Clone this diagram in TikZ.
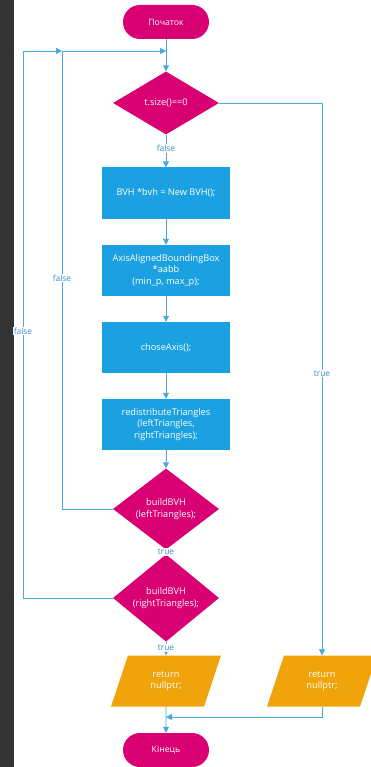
\documentclass[tikz,border=0pt]{standalone}
\usepackage{fontspec}
\setmainfont{Open Sans}
\usetikzlibrary{shapes.geometric,arrows.meta}
\definecolor{mag}{HTML}{D80073}
\definecolor{blu}{HTML}{1BA1E2}
\definecolor{org}{HTML}{F0A30A}
\definecolor{lin}{HTML}{4AA8DC}
\definecolor{lbl}{HTML}{3A8EC6}
\definecolor{strip}{HTML}{333333}
\tikzset{
  term/.style={rectangle, rounded corners=17pt, fill=mag, minimum width=86pt, minimum height=34pt, inner sep=0pt, text=white, font=\fontsize{8.7}{10}\selectfont},
  dec/.style={diamond, fill=mag, minimum width=106pt, minimum height=63pt, inner sep=0pt, text=white, align=center, font=\fontsize{9.2}{11.7}\selectfont},
  proc/.style={rectangle, fill=blu, minimum width=128pt, minimum height=51pt, inner sep=0pt, text=white, align=center, font=\fontsize{9.2}{11.7}\selectfont},
  io/.style={trapezium, trapezium left angle=71, trapezium right angle=109, trapezium stretches=true, fill=org, minimum width=110pt, minimum height=51pt, inner sep=0pt, text=white, align=center, font=\fontsize{9.2}{11.7}\selectfont},
  conn/.style={draw=lin, line width=0.8pt, -{Triangle[length=6pt,width=6pt]}},
  lab/.style={fill=white, text=lbl, inner sep=1pt, font=\fontsize{8.4}{10}\selectfont}
}
\begin{document}
\begin{tikzpicture}[x=1pt,y=-1pt]
\useasboundingbox (0,0) rectangle (370,767);
\fill[white] (0,0) rectangle (370,767);
\fill[strip] (0,0) rectangle (14,767);
\node[term] (start) at (166,22) {Початок};
\node[dec] (d1) at (166,103) {t.size()==0};
\node[proc] (b1) at (166,193) {BVH *bvh = New BVH();};
\node[proc] (b2) at (166,270.5) {AxisAlignedBoundingBox\\*aabb\\(min\_p, max\_p);};
\node[proc] (b3) at (166,347.5) {choseAxis();};
\node[proc] (b4) at (166,424.5) {redistributeTriangles\\(leftTriangles,\\rightTriangles);};
\node[dec] (d2) at (166,509) {buildBVH\\(leftTriangles);};
\node[dec] (d3) at (166,598) {buildBVH\\(rightTriangles);};
\node[io] (r1) at (166,681) {return\\nullptr;};
\node[io] (r2) at (322,681) {return\\nullptr;};
\node[term] (end) at (166,750) {Кінець};
\coordinate (top) at (166,51);
\coordinate (inner) at (62,51);
\coordinate (outer) at (23,51);
\coordinate (merge) at (166,717);
\draw[conn] (start) -- (d1);
\draw[conn] (d1) -- node[lab, pos=0.42] {false} (b1);
\draw[conn] (b1) -- (b2);
\draw[conn] (b2) -- (b3);
\draw[conn] (b3) -- (b4);
\draw[conn] (b4) -- (d2);
\draw[conn] (d2) -- node[lab] {true} (d3);
\draw[conn] (d3) -- node[lab, pos=0.45] {true} (r1);
\draw[conn] (d2.west) -| node[lab, pos=0.752] {false} (inner) -- (top);
\draw[conn] (d3.west) -| node[lab, pos=0.744] {false} (outer) -- (inner);
\draw[conn] (d1.east) -| node[lab, pos=0.745] {true} (r2.north);
\draw[conn] (r2.south) |- (merge);
\draw[conn] (r1) -- (end);
\end{tikzpicture}
\end{document}
